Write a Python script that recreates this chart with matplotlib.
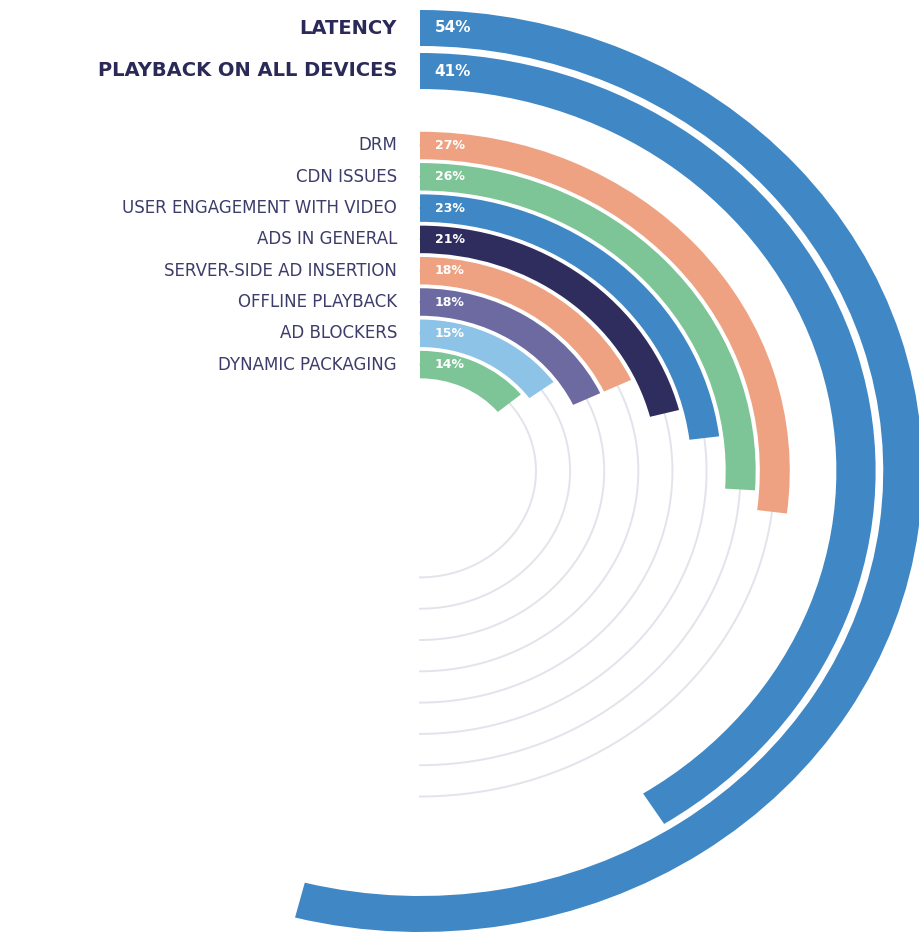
import numpy as np
import matplotlib.pyplot as plt

plt.rcParams['font.family'] = ['DejaVu Sans']

labels = ['LATENCY', 'PLAYBACK ON ALL DEVICES', 'DRM', 'CDN ISSUES',
          'USER ENGAGEMENT WITH VIDEO', 'ADS IN GENERAL',
          'SERVER-SIDE AD INSERTION', 'OFFLINE PLAYBACK', 'AD BLOCKERS',
          'DYNAMIC PACKAGING']
values = [54, 41, 27, 26, 23, 21, 18, 18, 15, 14]
colors = ['#3f87c5', '#3f87c5', '#eea282', '#7dc497', '#3f87c5', '#2f2d5e',
          '#eea282', '#6d6aa1', '#8ec3e8', '#7dc497']

# geometry in vertical pixels (the original picture is stretched sideways)
W, H = 919, 933
cx, cy = 420, 471
R = 470
stretch = 1.09
radii = [443, 400] + [325.5 - 31.3 * k for k in range(8)]
thick = [36, 36] + [27.5] * 8

fig = plt.figure(figsize=(W / 100, H / 100), dpi=100)
ax = fig.add_axes([(cx - R * stretch) / W, (H - cy - R) / H,
                   2 * R * stretch / W, 2 * R / H], projection='polar')
ax.set_aspect('auto')
ax.set_theta_zero_location('N')
ax.set_theta_direction(-1)
ax.set_ylim(0, R)
ax.set_axis_off()

# light grey guide arcs for the smaller items
theta = np.linspace(0, np.pi, 300)
for r in radii[2:]:
    ax.plot(theta, np.full_like(theta, r), color='#e3e3ec', lw=1.4, zorder=1)

for i, (lab, v, c, r, t) in enumerate(zip(labels, values, colors, radii, thick)):
    ax.barh(r, np.deg2rad(v * 3.6), left=0, height=t, color=c, zorder=2)
    big = i < 2
    ax.annotate(lab, xy=(0, r), xytext=(-16.5, 0), textcoords='offset points',
                ha='right', va='center',
                fontsize=14 if big else 12,
                fontweight='bold' if big else 'normal',
                color='#2a2958' if big else '#3d3c6a')
    ax.annotate(f'{v}%', xy=(0, r), xytext=(10.5, 0), textcoords='offset points',
                ha='left', va='center', color='white', fontweight='bold',
                fontsize=11 if big else 9)

fig.savefig('out.png', dpi=100, facecolor='white')
